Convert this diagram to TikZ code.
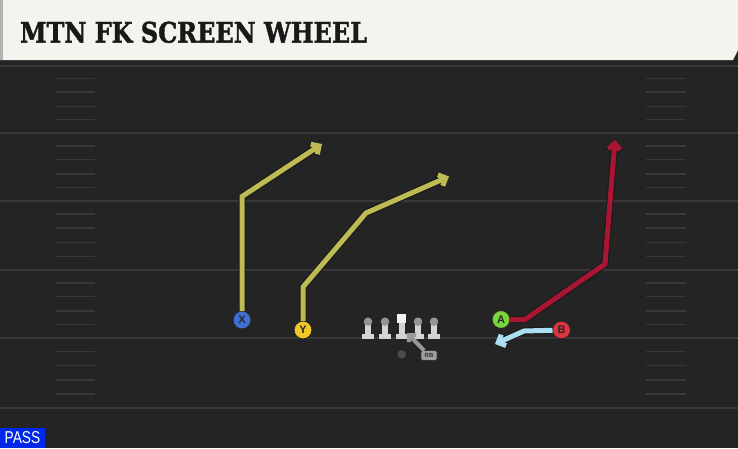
\documentclass[tikz,border=0pt]{standalone}
\usepackage{fontspec}
\usepackage{graphicx}
\newfontfamily\titlefont{DejaVu Serif}[BoldFeatures={FakeBold=1.6}]
\newfontfamily\labelfont{Liberation Sans}
\usetikzlibrary{positioning, arrows.meta, calc}

\definecolor{field}{RGB}{36,36,36}
\definecolor{yardgray}{RGB}{56,56,56}
\definecolor{cream}{RGB}{245,243,237}
\definecolor{olive}{RGB}{190,186,84}
\definecolor{crimson}{RGB}{168,22,52}
\definecolor{skyblue}{RGB}{172,224,240}
\definecolor{xblue}{RGB}{62,112,212}
\definecolor{yyellow}{RGB}{242,200,40}
\definecolor{agreen}{RGB}{122,212,62}
\definecolor{bred}{RGB}{222,52,64}
\definecolor{passblue}{RGB}{0,40,232}
\definecolor{headgray}{RGB}{150,150,150}
\definecolor{bodygray}{RGB}{212,212,212}

\begin{document}
\begin{tikzpicture}[x=1pt,y=-1pt,every node/.style={inner sep=0,outer sep=0},
    yard/.style={draw=yardgray,line width=2pt},
    hash/.style={draw=yardgray,line width=1.4pt},
    route/.style={line width=5pt,preaction={draw=black!90,line width=7pt},
                  -{Straight Barb[length=6pt,width=12pt]}},
    player/.style={circle,draw=black!85,line width=1pt,minimum size=18pt,
                   font=\labelfont\bfseries\fontsize{11}{11}\selectfont,text=black!85},
    head/.style={circle,fill=headgray,minimum size=8.5pt},
    body/.style={fill=bodygray}]

  \useasboundingbox (0,0) rectangle (738,448);
  \fill[field] (0,0) rectangle (738,448);

  \foreach \y in {66,133,201,270,338,408}
    \draw[yard] (0,\y) -- (738,\y);
  \foreach \a/\b in {66/133,133/201,201/270,270/338,338/408}
    \foreach \f in {0.19,0.39,0.6,0.8}{
      \draw[hash] (56,{\a+\f*(\b-\a)}) -- (95,{\a+\f*(\b-\a)});
      \draw[hash] (646,{\a+\f*(\b-\a)}) -- (686,{\a+\f*(\b-\a)});
    }

  \fill[cream] (0,0) -- (738,0) -- (738,50) -- (733,60) -- (0,60) -- cycle;
  \fill[gray!60] (0,0) rectangle (3,60);
  \node[anchor=south west,text=black!90] (title) at (20,43)
    {\resizebox{347pt}{21pt}{\titlefont\bfseries MTN FK SCREEN WHEEL}};

  \foreach \i/\x in {1/368,2/385,4/418,5/434}{
    \fill[body] (\x-2.8,324) rectangle (\x+2.8,334.5);
    \fill[body] (\x-6,334.3) rectangle (\x+6,338.5);
    \node[head] (ol\i) at (\x,321.7) {};
  }
  \fill[body] (398.9,322) rectangle (404.5,334.5);
  \fill[body] (395.7,334.3) rectangle (407.7,338.5);
  \node[fill=white!95!black,minimum size=8.5pt] (c) at (401.7,318.3) {};

  \node[circle,fill=gray!60!black,minimum size=8.5pt] (qb) at (401.7,354.3) {};
  \node[rounded corners=2pt,draw=black!80,fill=gray!75,line width=0.7pt,
        minimum width=16pt,minimum height=10pt,
        font=\labelfont\bfseries\fontsize{6}{6}\selectfont,text=black!80]
        (rb) at (429,355.5) {RB};
  \coordinate (rbend) at (407,333);
  \draw[line width=4pt,draw=gray!80!white,
        -{Straight Barb[length=5pt,width=10pt]}] (rb) -- (rbend);

  \node[player,fill=xblue] (x) at (242,320) {X};
  \node[player,fill=yyellow] (y) at (303,330) {Y};
  \node[player,fill=agreen] (a) at (501,319.5) {A};
  \node[player,fill=bred] (b) at (561.5,330) {B};

  \coordinate (xend) at (322,144);
  \coordinate (yend) at (449,176.5);
  \coordinate (aend) at (615,140);
  \coordinate (bend) at (495,344);

  \draw[route,olive] (x) -- (242,196.5) -- (xend);
  \draw[route,olive] (y) -- (303,287) -- (366,213) -- (yend);
  \draw[route,crimson] (a) -- (525,319.5) -- (605,264) -- (aend);
  \draw[route,skyblue] (b) -- (524,331) -- (bend);

  \node[fill=passblue,anchor=south west,minimum width=45pt,minimum height=20.5pt,
        text=white] (pass) at (0,448)
    {\resizebox{35.5pt}{12pt}{\labelfont PASS}};
\end{tikzpicture}
\end{document}
